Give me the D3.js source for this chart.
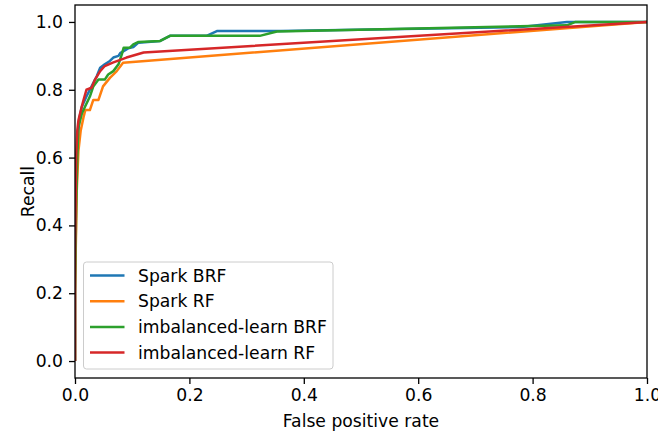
<!DOCTYPE html>
<html>
<head>
<meta charset="utf-8">
<script src="https://cdn.jsdelivr.net/npm/d3@7"></script>
<style>
  body { margin: 0; background: #fff; }
  text { font-family: 'DejaVu Sans', sans-serif; }
</style>
</head>
<body>
<div id="chart"></div>
<script>
// ROC points (false positive rate, recall)
const sparkBrfFpr = [0, 0, 0.002, 0.004, 0.006, 0.008, 0.012, 0.02, 0.029, 0.038, 0.044, 0.052, 0.061, 0.067, 0.076, 0.079, 0.093, 0.102, 0.111, 0.149, 0.166, 0.23, 0.248, 0.36, 0.78, 0.86, 1];
const sparkBrfTpr = [0, 0.25, 0.5, 0.62, 0.68, 0.72, 0.75, 0.78, 0.81, 0.84, 0.865, 0.875, 0.885, 0.895, 0.9, 0.908, 0.922, 0.926, 0.939, 0.944, 0.959, 0.959, 0.973, 0.973, 0.985, 1.0, 1];

const sparkRfFpr = [0, 0, 0.003, 0.006, 0.01, 0.015, 0.018, 0.026, 0.032, 0.041, 0.049, 0.061, 0.073, 0.084, 1];
const sparkRfTpr = [0, 0.2, 0.5, 0.62, 0.68, 0.72, 0.74, 0.74, 0.77, 0.77, 0.81, 0.835, 0.855, 0.88, 1];

const imbBrfFpr = [0, 0, 0.002, 0.004, 0.006, 0.012, 0.0175, 0.026, 0.032, 0.041, 0.052, 0.058, 0.067, 0.076, 0.082, 0.085, 0.096, 0.102, 0.111, 0.149, 0.16, 0.166, 0.323, 0.353, 0.86, 0.875, 1];
const imbBrfTpr = [0, 0.2, 0.45, 0.6, 0.69, 0.73, 0.75, 0.78, 0.81, 0.83, 0.83, 0.845, 0.855, 0.875, 0.905, 0.924, 0.924, 0.934, 0.941, 0.944, 0.954, 0.959, 0.959, 0.972, 0.99, 1.0, 1];

const imbRfFpr = [0, 0, 0.002, 0.004, 0.006, 0.0117, 0.015, 0.02, 0.029, 0.035, 0.044, 0.052, 0.066, 0.09, 0.12, 1];
const imbRfTpr = [0, 0.3, 0.6, 0.68, 0.71, 0.75, 0.77, 0.8, 0.806, 0.83, 0.855, 0.87, 0.88, 0.895, 0.91, 1];

const seriesNames = ['Spark BRF', 'Spark RF', 'imbalanced-learn BRF', 'imbalanced-learn RF'];
const tickValues = [0, 0.2, 0.4, 0.6, 0.8, 1.0];

const size = { width: 658, height: 433 };
const margin = { left: 75, right: 11, top: 5, bottom: 55 };
const colors = ['#1f77b4', '#ff7f0e', '#2ca02c', '#d62728'];
const fontSize = '17.2px';

const series = [
  [sparkBrfFpr, sparkBrfTpr],
  [sparkRfFpr, sparkRfTpr],
  [imbBrfFpr, imbBrfTpr],
  [imbRfFpr, imbRfTpr],
].map(([fpr, tpr], i) => ({
  name: seriesNames[i],
  color: colors[i],
  points: fpr.map((f, j) => [f, tpr[j]]),
}));

const x = d3.scaleLinear().domain([0, 1]).range([margin.left, size.width - margin.right]);
const y = d3.scaleLinear().domain([-0.05, 1.05]).range([size.height - margin.bottom, margin.top]);

const svg = d3.select('#chart')
  .append('svg')
  .attr('width', size.width)
  .attr('height', size.height);

svg.append('clipPath')
  .attr('id', 'plot-clip')
  .append('rect')
  .attr('x', x(0))
  .attr('y', y(1.05))
  .attr('width', x(1) - x(0))
  .attr('height', y(-0.05) - y(1.05));

const line = d3.line()
  .x((d) => x(d[0]))
  .y((d) => y(d[1]));

svg.append('g')
  .attr('clip-path', 'url(#plot-clip)')
  .selectAll('path')
  .data(series)
  .enter()
  .append('path')
  .attr('d', (d) => line(d.points))
  .attr('fill', 'none')
  .attr('stroke', (d) => d.color)
  .attr('stroke-width', 2.5)
  .attr('stroke-linejoin', 'round');

// axes
const fmt = d3.format('.1f');
const xAxis = svg.append('g')
  .attr('transform', `translate(0,${y(-0.05)})`)
  .call(d3.axisBottom(x).tickValues(tickValues).tickFormat(fmt).tickSize(6).tickPadding(5).tickSizeOuter(0));
const yAxis = svg.append('g')
  .attr('transform', `translate(${x(0)},0)`)
  .call(d3.axisLeft(y).tickValues(tickValues).tickFormat(fmt).tickSize(6).tickPadding(6).tickSizeOuter(0));

[xAxis, yAxis].forEach((g) => {
  g.select('.domain').remove();
  g.selectAll('.tick line').attr('stroke', '#000').attr('stroke-width', 1.3);
  g.selectAll('.tick text')
    .attr('fill', '#000')
    .style('font-family', 'DejaVu Sans')
    .style('font-size', fontSize);
});

// spines on top of the lines
svg.append('rect')
  .attr('x', x(0))
  .attr('y', y(1.05))
  .attr('width', x(1) - x(0))
  .attr('height', y(-0.05) - y(1.05))
  .attr('fill', 'none')
  .attr('stroke', '#000')
  .attr('stroke-width', 1.3);

svg.append('text')
  .attr('x', (x(0) + x(1)) / 2)
  .attr('y', 427)
  .attr('text-anchor', 'middle')
  .style('font-size', fontSize)
  .text('False positive rate');

svg.append('text')
  .attr('transform', `translate(34,${(y(-0.05) + y(1.05)) / 2}) rotate(-90)`)
  .attr('text-anchor', 'middle')
  .style('font-size', fontSize)
  .text('Recall');

// legend
const legend = svg.append('g').attr('transform', 'translate(83.5,262)');
legend.append('rect')
  .attr('width', 249.5)
  .attr('height', 107)
  .attr('rx', 3)
  .attr('fill', '#fff')
  .attr('fill-opacity', 0.8)
  .attr('stroke', '#cccccc')
  .attr('stroke-width', 1);

const rows = legend.selectAll('g.row')
  .data(series)
  .enter()
  .append('g')
  .attr('class', 'row')
  .attr('transform', (d, i) => `translate(0,${13.5 + i * 25.7})`);

rows.append('line')
  .attr('x1', 6.5)
  .attr('x2', 41)
  .attr('stroke', (d) => d.color)
  .attr('stroke-width', 2.5);

rows.append('text')
  .attr('x', 54.5)
  .attr('dy', '0.35em')
  .style('font-size', fontSize)
  .text((d) => d.name);
</script>
</body>
</html>
